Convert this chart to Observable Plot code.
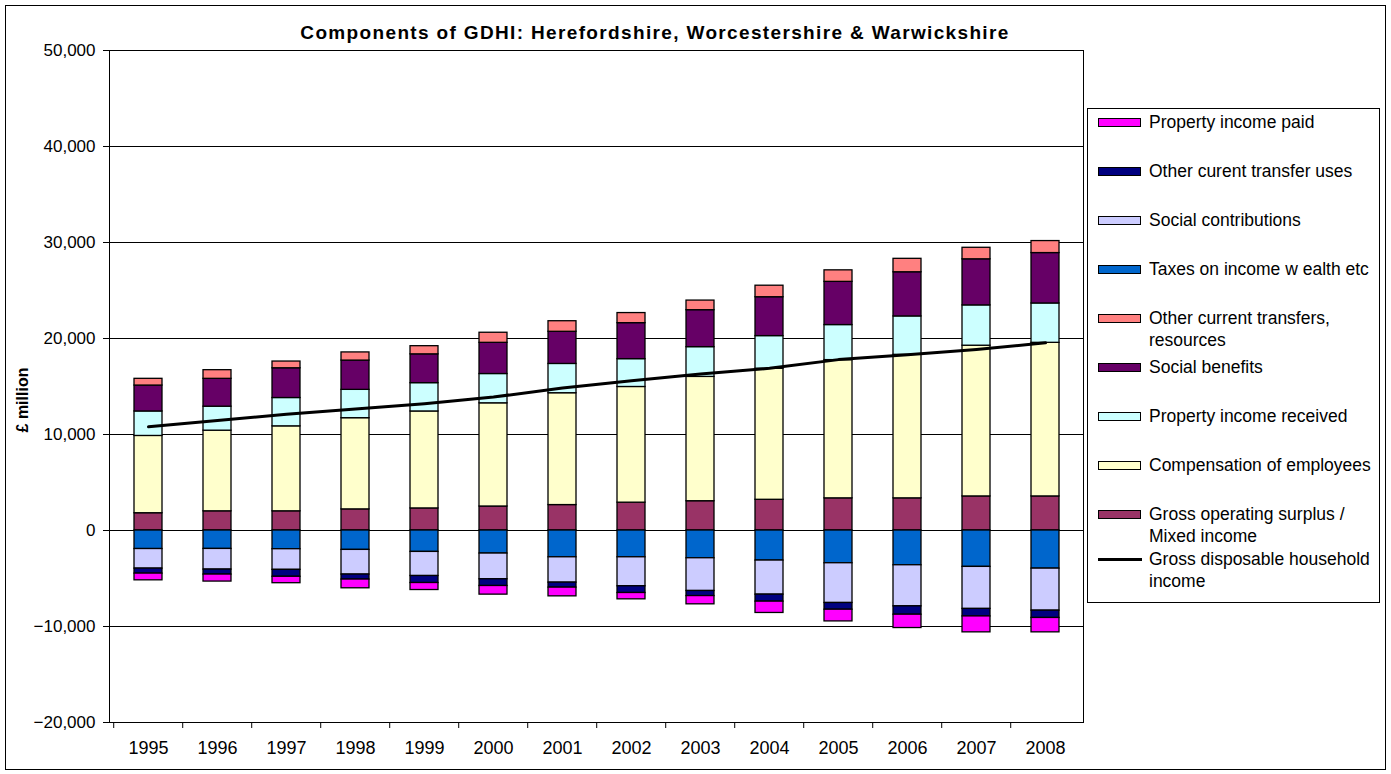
<!DOCTYPE html>
<html><head><meta charset="utf-8">
<script src="https://cdn.jsdelivr.net/npm/d3@7"></script>
<script src="https://cdn.jsdelivr.net/npm/@observablehq/plot@0.6"></script>
<style>
body{margin:0;background:#fff;font-family:"Liberation Sans",Arial,sans-serif;}
#wrap{position:relative;width:1391px;height:774px;overflow:hidden;background:#fff}
#border{position:absolute;left:5px;top:5px;width:1381px;height:765px;border:1px solid #000;box-sizing:border-box;pointer-events:none}
#title{position:absolute;left:655px;top:22px;transform:translateX(-50%);font-weight:bold;font-size:19px;letter-spacing:1.35px;white-space:nowrap;color:#000;line-height:1.15}
#ylab{position:absolute;left:23px;top:400px;transform:translate(-50%,-50%) rotate(-90deg);font-weight:bold;font-size:16px;white-space:nowrap}
#legend{position:absolute;left:1087px;top:108px;width:293px;height:495px;border:1px solid #000;box-sizing:border-box;background:#fff}
.item{position:absolute;left:10px;font-size:17.5px;line-height:22px;color:#000}
.sw{position:absolute;left:0;top:7px;width:43px;height:9px;border:1px solid #000;box-sizing:border-box}
.ln{position:absolute;left:0;top:10px;width:44px;height:3px;background:#000}
.txt{position:absolute;left:51px;top:0;white-space:nowrap}
#chart{position:absolute;left:0;top:0}
</style>
</head><body>
<div id="wrap">
  <div id="chart"></div>
  <div id="title"></div>
  <div id="ylab"></div>
  <div id="legend"></div>
  <div id="border"></div>
</div>
<script>
const title = "Components of GDHI: Herefordshire, Worcestershire & Warwickshire";
const yLabel = "£ million";
const years = [1995,1996,1997,1998,1999,2000,2001,2002,2003,2004,2005,2006,2007,2008];
const yTicks = [-20000,-10000,0,10000,20000,30000,40000,50000];

// positive components (£ million)
const grossOperatingSurplus = [1800,2000,2000,2200,2300,2500,2650,2900,3050,3200,3350,3350,3550,3550];
const compensationOfEmployees = [8050,8400,8850,9500,10100,10750,11650,12050,12950,13650,14400,14950,15700,16000];
const propertyIncomeReceived = [2550,2500,2950,2950,2950,3050,3050,2900,3100,3400,3650,4000,4200,4100];
const socialBenefits = [2700,2900,3100,3050,3000,3250,3350,3750,3850,4050,4500,4600,4800,5250];
const otherCurrentTransfersResources = [700,900,700,850,850,1050,1100,1050,1000,1200,1200,1400,1200,1250];
// negative components
const taxesOnIncomeWealth = [-1930,-1920,-1950,-2020,-2230,-2400,-2790,-2790,-2890,-3130,-3410,-3620,-3790,-3970];
const socialContributions = [-2040,-2150,-2150,-2570,-2510,-2680,-2640,-3020,-3410,-3550,-4140,-4280,-4380,-4380];
const otherCurrentTransferUses = [-520,-520,-720,-520,-730,-700,-520,-700,-530,-730,-700,-870,-780,-760];
const propertyIncomePaid = [-700,-730,-670,-910,-730,-900,-910,-660,-860,-1180,-1220,-1390,-1660,-1500];
// total
const gdhi = [10800,11450,12100,12650,13200,13900,14850,15600,16300,16900,17800,18300,18850,19550];

const seriesNames = [
  "Gross operating surplus / Mixed income",
  "Compensation of employees",
  "Property income received",
  "Social benefits",
  "Other current transfers, resources",
  "Taxes on income w ealth etc",
  "Social contributions",
  "Other curent transfer uses",
  "Property income paid"
];
const seriesValues = [grossOperatingSurplus, compensationOfEmployees, propertyIncomeReceived, socialBenefits,
  otherCurrentTransfersResources, taxesOnIncomeWealth, socialContributions, otherCurrentTransferUses, propertyIncomePaid];
const seriesColors = ["#993366","#FFFFCC","#CCFFFF","#660066","#FF8080","#0066CC","#CCCCFF","#000080","#FF00FF"];
const lineName = "Gross disposable household income";

// legend order (top to bottom) and labels with line breaks
const legendOrder = [8,7,6,5,4,3,2,1,0];
const legendLabels = {
  4: "Other current transfers,<br>resources",
  0: "Gross operating surplus /<br>Mixed income"
};
const lineLabel = "Gross disposable household<br>income";

const rows = [];
seriesNames.forEach((s, i) => years.forEach((y, j) => rows.push({year: String(y), series: s, value: seriesValues[i][j]})));
const lineRows = years.map((y, j) => ({year: String(y), value: gdhi[j]}));

const W = 1391, H = 774;
const mL = 109, mR = W - 1083, mT = 50, mB = H - 722;
const step = (W - mL - mR) / years.length;

const chart = Plot.plot({
  width: W, height: H,
  marginLeft: mL, marginRight: mR, marginTop: mT, marginBottom: mB,
  style: {fontFamily: '"Liberation Sans", Arial, sans-serif', fontSize: "17px", background: "transparent", color: "#000"},
  x: {type: "band", domain: years.map(String), paddingInner: 0.6, paddingOuter: 0.3, label: null},
  y: {domain: [-20000, 50000], label: null},
  color: {domain: seriesNames, range: seriesColors},
  marks: [
    Plot.ruleY(yTicks, {stroke: "#000", strokeWidth: 1}),
    Plot.frame({stroke: "#000", strokeWidth: 1}),
    Plot.barY(rows, Plot.stackY({x: "year", y: "value", fill: "series", z: "series", order: seriesNames, stroke: "#000", strokeWidth: 1.3})),
    Plot.line(lineRows, {x: "year", y: "value", stroke: "#000", strokeWidth: 3}),
    Plot.axisY({ticks: yTicks, tickFormat: d3.format(","), tickSize: 6, tickPadding: 8, stroke: "#000", label: null, fontSize: 17}),
    Plot.axisX({tickSize: 6, text: null, dx: -step / 2, stroke: "#000", label: null}),
    Plot.axisX({tickSize: 0, tickPadding: 19, label: null, fontSize: 18})
  ]
});
document.getElementById("chart").appendChild(chart);
document.getElementById("title").textContent = title;
document.getElementById("ylab").textContent = yLabel;

const legend = document.getElementById("legend");
const itemTop0 = 2, itemStep = 49;
legendOrder.forEach((idx, k) => {
  const div = document.createElement("div");
  div.className = "item";
  div.style.top = (itemTop0 + k * itemStep) + "px";
  div.innerHTML = `<div class="sw" style="background:${seriesColors[idx]}"></div><div class="txt">${legendLabels[idx] || seriesNames[idx]}</div>`;
  legend.appendChild(div);
});
const li = document.createElement("div");
li.className = "item";
li.style.top = (itemTop0 + 9 * itemStep - 4) + "px";
li.innerHTML = `<div class="ln"></div><div class="txt">${lineLabel}</div>`;
legend.appendChild(li);
</script>
</body></html>
